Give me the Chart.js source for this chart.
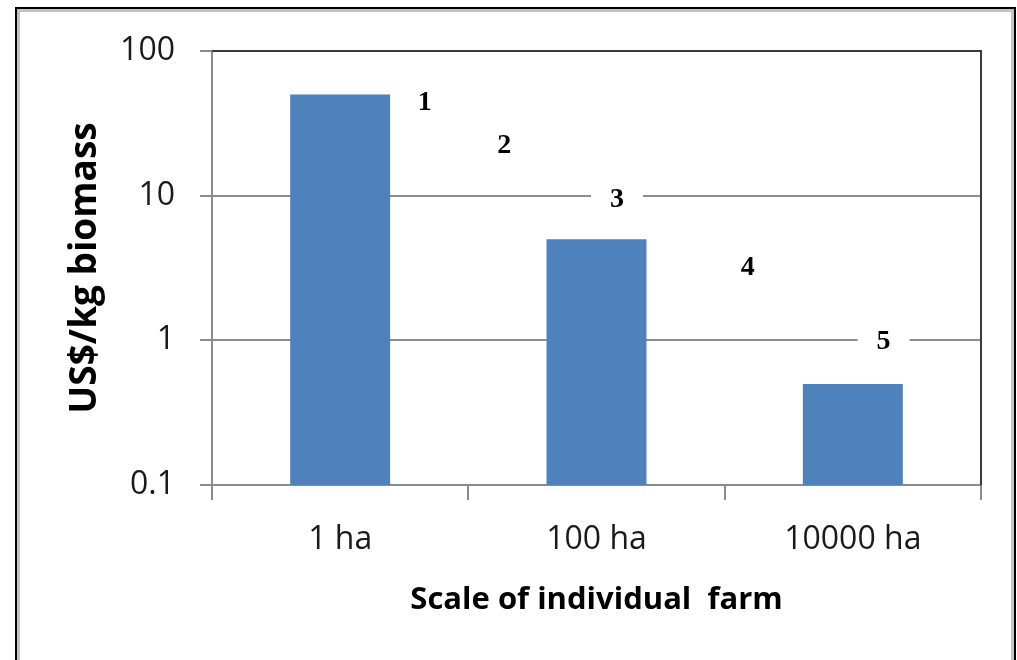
<!DOCTYPE html>
<html>
<head>
<meta charset="utf-8">
<script src="https://cdn.jsdelivr.net/npm/chart.js@4.4.0/dist/chart.umd.min.js"></script>
<style>
    html, body { margin: 0; padding: 0; background: #fff; }
    #frame { position: absolute; left: 15px; top: 7px; width: 1001px; height: 700px; box-sizing: border-box; border: 2px solid #000; border-bottom: none; }
    #frame-inner { position: absolute; left: 0; top: 0; right: 0; bottom: 0; border: 3px solid #c4c4c4; border-bottom: none; }
    #wrap { position: absolute; left: 0; top: 0; width: 1017px; height: 660px; }
</style>
</head>
<body>
<div id="frame"><div id="frame-inner"></div></div>
<div id="wrap"><canvas id="chart"></canvas></div>
<script>
// Chart data
const categories = ['1 ha', '100 ha', '10000 ha'];
const costValues = [50, 5, 0.5];
const yTickValues = [0.1, 1, 10, 100];

// Numbered notes (x in category units, y in US$/kg)
const noteLabels = ['1', '2', '3', '4', '5'];
const noteX = [0.33, 0.64, 1.08, 1.59, 2.12];
const noteY = [44.5, 22.5, 9.5, 3.2, 1.0];

const axisGrey = '#8c8c8c';

// Draw the numbered notes on white patches
const notesPlugin = {
    id: 'notes',
    afterDatasetsDraw(chart) {
        const ctx = chart.ctx;
        const xScale = chart.scales.x;
        const yScale = chart.scales.y;
        ctx.save();
        ctx.font = 'bold 28px "Liberation Serif", "Times New Roman", serif';
        ctx.textAlign = 'center';
        ctx.textBaseline = 'middle';
        noteLabels.forEach((label, i) => {
            const px = xScale.getPixelForValue(noteX[i]);
            const py = yScale.getPixelForValue(noteY[i]);
            ctx.fillStyle = '#fff';
            ctx.fillRect(px - 26, py - 15, 52, 30);
            ctx.fillStyle = '#000';
            ctx.fillText(label, px, py + 1);
        });
        ctx.restore();
    }
};

// Top and right edges of the plot area
const plotBorderPlugin = {
    id: 'plotBorder',
    afterDraw(chart) {
        const { ctx, chartArea } = chart;
        ctx.save();
        ctx.strokeStyle = '#3a3a3a';
        ctx.lineWidth = 2;
        ctx.beginPath();
        ctx.moveTo(chartArea.left, chartArea.top);
        ctx.lineTo(chartArea.right, chartArea.top);
        ctx.lineTo(chartArea.right, chartArea.bottom);
        ctx.stroke();
        ctx.restore();
    }
};

new Chart(document.getElementById('chart'), {
    type: 'bar',
    data: {
        labels: categories,
        datasets: [{
            label: 'US$/kg biomass',
            data: costValues,
            backgroundColor: '#4f81bd',
            borderWidth: 0,
            categoryPercentage: 1,
            barPercentage: 0.39
        }]
    },
    options: {
        responsive: true,
        maintainAspectRatio: false,
        animation: false,
        layout: {
            padding: { left: 0, top: 51, right: 36, bottom: 41 }
        },
        plugins: {
            legend: { display: false },
            tooltip: { enabled: false }
        },
        scales: {
            x: {
                type: 'category',
                offset: true,
                grid: {
                    offset: true,
                    drawOnChartArea: false,
                    drawTicks: true,
                    tickLength: 15,
                    color: axisGrey,
                    lineWidth: 2
                },
                border: { color: axisGrey, width: 2 },
                ticks: {
                    font: { family: 'Open Sans', size: 32 },
                    color: '#1a1a1a',
                    padding: 21,
                    maxRotation: 0
                },
                title: {
                    display: true,
                    text: 'Scale of individual  farm',
                    font: { family: 'Open Sans', size: 31, weight: 'bold' },
                    color: '#000',
                    padding: { top: 0, bottom: 0 }
                },
                afterFit(scale) {
                    scale.height = 134;
                }
            },
            y: {
                type: 'logarithmic',
                min: 0.1,
                max: 100,
                afterBuildTicks(scale) {
                    scale.ticks = yTickValues.map(v => ({ value: v }));
                },
                grid: {
                    color: axisGrey,
                    lineWidth: 2,
                    tickLength: 12
                },
                border: { color: axisGrey, width: 2 },
                ticks: {
                    font: { family: 'Open Sans', size: 32 },
                    color: '#1a1a1a',
                    padding: 25,
                    callback: value => String(value)
                },
                title: {
                    display: true,
                    text: 'US$/kg biomass',
                    font: { family: 'Open Sans', size: 37, weight: 'bold' },
                    color: '#000',
                    padding: { top: 63, bottom: 0 }
                },
                afterFit(scale) {
                    scale.width = 212;
                }
            }
        }
    },
    plugins: [notesPlugin, plotBorderPlugin]
});
</script>
</body>
</html>
